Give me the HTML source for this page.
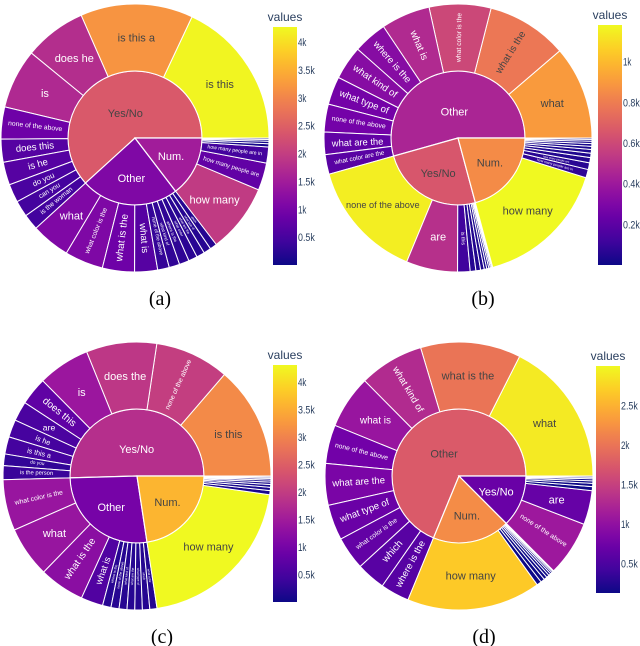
<!DOCTYPE html>
<html><head><meta charset="utf-8"><style>
html,body{margin:0;padding:0;background:#fff;}
svg{display:block;font-family:"Liberation Sans",sans-serif;}
</style></head><body>
<svg id="root" width="640" height="646" viewBox="0 0 640 646"></svg>
<script>
// ---------- Chart (a) data ----------
const aParentNames=['Yes/No','Other','Num.'];
const aParentColor=[2400,1100,1500];
const aLabels=['is this','is this a','does he','is','none of the above','does this','is he','do you','can you','is the woman',
 'what','what color is the','what is the','what is','none of the above','what kind of','where is the','what color','what are the','what type of','which',
 'how many','how many people are','how many people are in','how many people','how many players','how much','how many times'];
const aParents=[0,0,0,0,0,0,0,0,0,0, 1,1,1,1,1,1,1,1,1,1,1, 2,2,2,2,2,2,2];
const aValues=[4230,3190,1760,1690,910,650,650,520,460,450, 1100,1090,910,650,330,300,280,250,230,210,200, 1950,780,455,90,70,50,40];
// ---------- Chart (b) data ----------
const bParentNames=['Other','Yes/No','Num.'];
const bParentColor=[450,650,850];
const bLabels=['what','what is the','what color is the','what is','where is the','what kind of','what type of','none of the above','what are the','what color are the',
 'none of the above','are','is this','does the','is there','is it','are there','is the','does this','can you','do you',
 'how many','how many people are in','how many people are','how many times','how much','how many players','how many birds','how many cars','how many dogs','how many animals','how many zebras'];
const bParents=[0,0,0,0,0,0,0,0,0,0, 1,1,1,1,1,1,1,1,1,1,1, 2,2,2,2,2,2,2,2,2,2,2];
const bValues=[900,778,594,472,326,325,270,268,216,189, 1148,495,120,55,45,35,25,20,15,12,10, 1280,80,65,50,42,36,30,26,22,18,13];
// ---------- Chart (c) data ----------
const cParentNames=['Yes/No','Other','Num.'];
const cParentColor=[1800,1000,3600];
const cLabels=['is this','none of the above','does the','is','does this','are','is he','is this a','do you','is the person',
 'what color is the','what','what is the','what is','where is the','none of the above','what kind of','what are the','what type of','which','what color',
 'how many','how many people are in','how many people are','how many times','how much','how many players','how many birds','how many cars','how many dogs'];
const cParents=[0,0,0,0,0,0,0,0,0,0, 1,1,1,1,1,1,1,1,1,1,1, 2,2,2,2,2,2,2,2,2];
const cValues=[3090,2020,1920,1420,760,535,480,470,315,380, 1390,1385,1235,600,230,220,215,210,205,200,195, 4600,110,90,75,65,55,45,35,29];
// ---------- Chart (d) data ----------
const dParentNames=['Other','Num.','Yes/No'];
const dParentColor=[1750,2200,700];
const dLabels=['what','what is the','what kind of','what is','none of the above','what are the','what type of','what color is the','which','where is the',
 'how many','how many people are in','how many people are','how many times','how much','how many players','how many birds','how many cars','how many dogs',
 'none of the above','are','is this','does the','is there','is it','are there','is the'];
const dParents=[0,0,0,0,0,0,0,0,0,0, 1,1,1,1,1,1,1,1,1, 2,2,2,2,2,2,2,2];
const dValues=[2900,2000,1290,1060,770,830,710,660,580,575, 2670,95,80,65,55,45,35,28,20, 1100,680,80,65,50,40,30,25];
// ---------- Colorbar ticks ----------
const aTicks=[500,1000,1500,2000,2500,3000,3500,4000];
const aTickLabels=['0.5k','1k','1.5k','2k','2.5k','3k','3.5k','4k'];
const bTicks=[200,400,600,800,1000];
const bTickLabels=['0.2k','0.4k','0.6k','0.8k','1k'];
const cTicks=[500,1000,1500,2000,2500,3000,3500,4000];
const cTickLabels=['0.5k','1k','1.5k','2k','2.5k','3k','3.5k','4k'];
const dTicks=[500,1000,1500,2000,2500];
const dTickLabels=['0.5k','1k','1.5k','2k','2.5k'];

const NS='http://www.w3.org/2000/svg';
const root=document.getElementById('root');
const PL=[[13,8,135],[70,3,159],[114,1,168],[156,23,158],[189,55,134],[216,87,107],[237,121,83],[251,159,58],[253,202,38],[240,249,33]];
function plasma(t){t=Math.max(0,Math.min(1,t));const p=t*9;const i=Math.min(8,Math.floor(p));const f=p-i;
 const c=PL[i].map((v,k)=>Math.round(v+(PL[i+1][k]-v)*f));return 'rgb('+c.join(',')+')';}
function el(tag,attrs,parent){const e=document.createElementNS(NS,tag);for(const k in attrs)e.setAttribute(k,attrs[k]);parent.appendChild(e);return e;}
function pt(cx,cy,r,a){const rad=a*Math.PI/180;return [cx+r*Math.cos(rad),cy-r*Math.sin(rad)];}
function wedge(cx,cy,r0,r1,a0,a1){const lg=(a1-a0)>180?1:0;const p1=pt(cx,cy,r1,a0),p2=pt(cx,cy,r1,a1);
 if(r0<=0)return `M${cx},${cy}L${p1[0]},${p1[1]}A${r1},${r1} 0 ${lg} 0 ${p2[0]},${p2[1]}Z`;
 const p3=pt(cx,cy,r0,a1),p4=pt(cx,cy,r0,a0);
 return `M${p1[0]},${p1[1]}A${r1},${r1} 0 ${lg} 0 ${p2[0]},${p2[1]}L${p3[0]},${p3[1]}A${r0},${r0} 0 ${lg} 1 ${p4[0]},${p4[1]}Z`;}

function chart(id,cx,cy,labels,parents,values,pNames,pColor,cmin,cmax,cbx,cby0,cby1,ticks,tickLabels,letter){
 const g=el('g',{},root);
 
 
 const ri=67,ro=134;
 const total=values.reduce((s,v)=>s+v,0);
 const tcol=v=>(v-cmin)/(cmax-cmin);
 let a=0;
 for(let p=0;p<pNames.length;p++){
  const idx=[];for(let i=0;i<labels.length;i++)if(parents[i]===p)idx.push(i);
  const pSum=idx.reduce((s,i)=>s+values[i],0);
  const pa0=a,pa1=a+pSum/total*360;
  const pp=el('path',{d:wedge(cx,cy,0,ri,pa0,pa1),fill:plasma(tcol(pColor[p])),stroke:'#fff','stroke-width':1.2},g);
  
  
  const span=pa1-pa0, m=(pa0+pa1)/2;
  const lr=span>180?ri*0.4:ri*0.6;
  const lp=pt(cx,cy,lr,m);
  const pt1=el('text',{x:lp[0],y:lp[1]+4,'text-anchor':'middle','font-size':11,fill:tcol(pColor[p])>0.55?'#444':'#fff'},g);
  pt1.textContent=pNames[p];
  
  
  let b=pa0;
  for(const i of idx){
   const a0=b,a1=b+values[i]/total*360;b=a1;
   const t=tcol(values[i]);
   const lf=el('path',{d:wedge(cx,cy,ri,ro,a0,a1),fill:plasma(t),stroke:'#fff','stroke-width':1},g);
   
   
   const sp=a1-a0,mid=(a0+a1)/2,rm=(ri+ro)/2,arc=sp*Math.PI/180*rm,n=labels[i].length;
   const fsH=Math.min(11,arc*0.9/(0.52*n));
   const fsR=Math.min(10,arc*0.55,60/(0.52*n));
   const fill=t>0.55?'#444':'#fff';
   const c=pt(cx,cy,rm,mid);
   if(fsH>=fsR&&fsH>=3){
    const tx=el('text',{x:c[0],y:c[1]+fsH*0.35,'text-anchor':'middle','font-size':fsH.toFixed(1),fill:fill},g);
    tx.textContent=labels[i];
    
    
   }else if(fsR>=2.5){
    let rot=-mid; if(mid>90&&mid<270)rot=180-mid;
    const tx=el('text',{x:c[0],y:c[1],'text-anchor':'middle','dominant-baseline':'central','font-size':fsR.toFixed(1),fill:fill,transform:`rotate(${rot} ${c[0]} ${c[1]})`},g);
    tx.textContent=labels[i];
    
    
   }
  }
  a=pa1;
 }
 // colorbar
 const gid='grad'+id;
 const defs=el('defs',{},g);
 const lg=el('linearGradient',{id:gid,x1:0,y1:1,x2:0,y2:0},defs);
 for(let k=0;k<=20;k++)el('stop',{offset:(k/20),'stop-color':plasma(k/20)},lg);
 const cb=el('rect',{x:cbx,y:cby0,width:24,height:cby1-cby0,fill:`url(#${gid})`},g);
 
 
 const ttl=el('text',{x:cbx+12,y:cby0-6,'text-anchor':'middle','font-size':12,fill:'#2a3f5f'},g);
 ttl.textContent='values';
 
 
 for(let k=0;k<ticks.length;k++){
  const y=cby1-(ticks[k]-cmin)/(cmax-cmin)*(cby1-cby0);
  const tk=el('text',{x:cbx+25,y:y+4,'font-size':11,fill:'#2a3f5f',textLength:(tickLabels[k].length*4.2).toFixed(1),lengthAdjust:'spacingAndGlyphs'},g);
  tk.textContent=tickLabels[k];
  
  
 }
 const cap=el('text',{x:cx+25,y:cy+167,'text-anchor':'middle','font-size':20,'font-family':'"Liberation Serif",serif',fill:'#000'},root);
 cap.textContent=letter;
 
 
}
chart('a',135,138,aLabels,aParents,aValues,aParentNames,aParentColor,0,4270,273,27,265,aTicks,aTickLabels,'(a)');
chart('b',458,138,bLabels,bParents,bValues,bParentNames,bParentColor,0,1180,598,25,265,bTicks,bTickLabels,'(b)');
chart('c',137,476,cLabels,cParents,cValues,cParentNames,cParentColor,0,4310,273,365,602,cTicks,cTickLabels,'(c)');
chart('d',459,476,dLabels,dParents,dValues,dParentNames,dParentColor,130,3000,596,366,593,dTicks,dTickLabels,'(d)');
</script>
</body></html>
